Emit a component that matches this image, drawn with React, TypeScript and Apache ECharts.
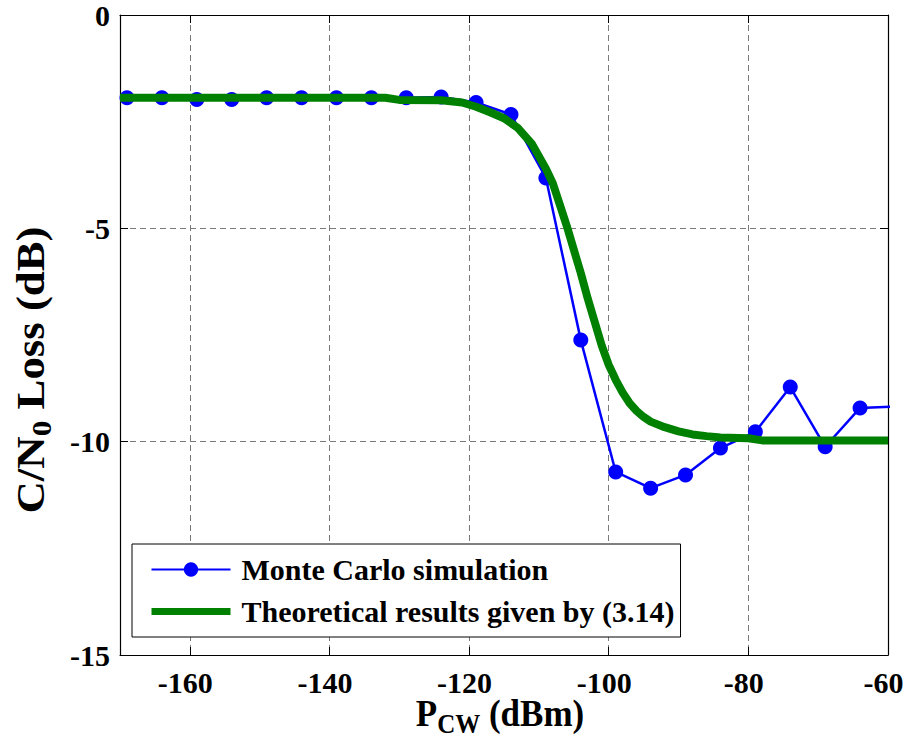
import React, { useEffect, useRef } from "react";
import * as echarts from "echarts";

// Monte Carlo simulation points (dBm, dB)
const mcX = [-169, -164, -159, -154, -149, -144, -139, -134, -129, -124, -119, -114, -109, -104, -99, -94, -89, -84, -79, -74, -69, -64, -59];
const mcY = [-1.94, -1.94, -1.98, -1.98, -1.94, -1.94, -1.94, -1.94, -1.94, -1.92, -2.05, -2.33, -3.82, -7.62, -10.71, -11.09, -10.78, -10.15, -9.77, -8.72, -10.12, -9.21, -9.18];

// Theoretical curve samples
const thX = [-170, -150, -132, -130, -124, -121, -119, -117, -115, -113, -111, -109, -108, -107, -106, -105, -104, -103, -102, -101, -100, -99, -98, -97, -96, -95, -94, -92, -90, -88, -86, -84, -80, -78, -60];
const thY = [-1.94, -1.94, -1.94, -1.99, -2.0, -2.05, -2.15, -2.28, -2.42, -2.65, -3.02, -3.6, -3.95, -4.45, -4.95, -5.5, -6.05, -6.65, -7.2, -7.75, -8.2, -8.55, -8.85, -9.1, -9.28, -9.42, -9.53, -9.66, -9.76, -9.83, -9.87, -9.9, -9.92, -9.97, -9.97];

const xTicks = [-160, -140, -120, -100, -80, -60];
const legendNames = ["Monte Carlo simulation", "Theoretical results given by (3.14)"];

const FONT = "Liberation Serif";

export default function App() {
  const ref = useRef<HTMLDivElement>(null);
  useEffect(() => {
    if (!ref.current) return;
    const chart = echarts.init(ref.current, null, { renderer: "svg" });
    const split = { show: true, lineStyle: { color: "#7a7a7a", width: 1, type: [6, 4] as any } };
    const axisLine = { show: true, onZero: false, lineStyle: { color: "#000", width: 1.2 } };
    const tickRich = { t: { fontFamily: FONT, fontWeight: "bold", fontSize: 30, color: "#000" } };
    const fmt = (v: number) => `{t|${v}}`;
    chart.setOption({
      animation: false,
      backgroundColor: "#fff",
      textStyle: { fontFamily: FONT },
      grid: { left: 120, right: 17, top: 15, bottom: 85, containLabel: false, outerBoundsMode: "none" } as any,
      xAxis: [
        {
          type: "value", min: -170, max: -60, position: "bottom",
          axisLine,
          axisTick: { show: true, inside: true, length: 8, customValues: xTicks, lineStyle: { color: "#000" } },
          axisLabel: {
            fontFamily: FONT, fontWeight: "bold", fontSize: 30, color: "#000",
            margin: 12, padding: [0, 9, 0, 0], customValues: xTicks,
            formatter: fmt, rich: tickRich,
          },
          splitLine: split,
        },
        {
          type: "value", min: -170, max: -60, position: "top",
          axisLine,
          axisTick: { show: true, inside: true, length: 8, customValues: xTicks, lineStyle: { color: "#000" } },
          axisLabel: { show: false },
          splitLine: { show: false },
        },
      ],
      yAxis: [
        {
          type: "value", min: -15, max: 0, interval: 5, position: "left",
          axisLine,
          axisTick: { show: true, inside: true, length: 8, lineStyle: { color: "#000" } },
          axisLabel: {
            fontFamily: FONT, fontWeight: "bold", fontSize: 30, color: "#000", margin: 10,
            formatter: fmt, rich: tickRich,
          },
          splitLine: split,
        },
        {
          type: "value", min: -15, max: 0, interval: 5, position: "right",
          axisLine,
          axisTick: { show: true, inside: true, length: 8, lineStyle: { color: "#000" } },
          axisLabel: { show: false },
          splitLine: { show: false },
        },
      ],
      legend: {
        orient: "vertical", left: 132, top: 544,
        itemWidth: 79, itemHeight: 18, itemGap: 11,
        padding: [10, 6, 10, 16],
        borderColor: "#000", borderWidth: 1, backgroundColor: "#fff",
        textStyle: { fontFamily: FONT, fontWeight: "bold", fontSize: 30, lineHeight: 31, color: "#000", padding: [0, 0, 0, 6] },
        data: [
          { name: legendNames[0] },
          { name: legendNames[1], itemStyle: { opacity: 0 }, lineStyle: { color: "#008000", width: 7 } },
        ],
      },
      graphic: [
        {
          type: "text", x: 500, y: 713, scaleY: 1.1,
          style: {
            text: "{m|P}{s|CW}{m| (dBm)}",
            align: "center", verticalAlign: "middle", textAlign: "center", textVerticalAlign: "middle",
            rich: {
              m: { fontFamily: FONT, fontWeight: "bold", fontSize: 35, fill: "#000" },
              s: { fontFamily: FONT, fontWeight: "bold", fontSize: 25, fill: "#000", padding: [20, 0, 0, 0] },
            },
          },
        },
        {
          type: "text", x: 30, y: 370, rotation: Math.PI / 2, scaleX: 1.12,
          style: {
            text: "{m|C/N}{s|0}{m| Loss (dB)}",
            align: "center", verticalAlign: "middle", textAlign: "center", textVerticalAlign: "middle",
            rich: {
              m: { fontFamily: FONT, fontWeight: "bold", fontSize: 40, fill: "#000" },
              s: { fontFamily: FONT, fontWeight: "bold", fontSize: 28, fill: "#000", padding: [24, 0, 0, 0] },
            },
          },
        },
      ],
      series: [
        {
          name: legendNames[0], type: "line", xAxisIndex: 0, yAxisIndex: 0,
          data: mcX.map((x, i) => [x, mcY[i]]),
          symbol: "circle", symbolSize: 15, showSymbol: true,
          lineStyle: { color: "#0000ff", width: 2.5 },
          itemStyle: { color: "#0000ff" },
          clip: true, z: 2,
        },
        {
          name: legendNames[1], type: "line", xAxisIndex: 0, yAxisIndex: 0,
          data: thX.map((x, i) => [x, thY[i]]),
          symbol: "none",
          lineStyle: { color: "#008000", width: 8, join: "round" },
          itemStyle: { color: "#008000" },
          clip: true, z: 3,
        },
      ],
    });
    return () => chart.dispose();
  }, []);
  return <div ref={ref} style={{ position: "fixed", left: 0, top: 0, width: 905, height: 740 }} />;
}
